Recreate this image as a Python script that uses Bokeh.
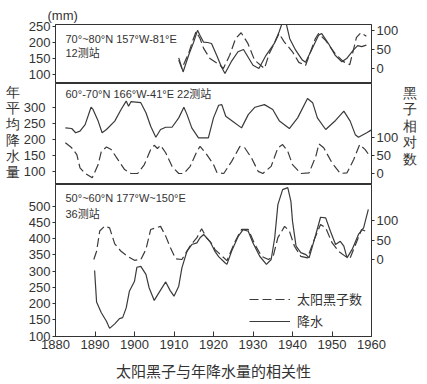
from bokeh.plotting import figure
from bokeh.layouts import column, row
from bokeh.models import Range1d, LinearAxis, FixedTicker, Label, Legend, LegendItem
from bokeh.embed import file_html
from bokeh.resources import INLINE

# ---------------- data ----------------
# Panel 1: 70-80N, 12 stations
p1_rain_year = [1911.2, 1912.3, 1913.7, 1915.0, 1915.95, 1916.6, 1917.5, 1918.5, 1919.5, 1920.8, 1922.0, 1922.9,
                1924.5, 1926.2, 1927.6, 1930.0, 1931.5, 1933.3, 1935.4, 1936.6, 1937.5, 1937.9, 1938.5, 1939.3,
                1940.8, 1942.5, 1943.3, 1945.0, 1946.6, 1947.4, 1949.1, 1950.8, 1952.5, 1953.7, 1955.4, 1956.5,
                1957.5, 1958.7]
p1_rain = [152, 108, 160, 202, 238, 222, 201, 200, 197, 160, 124, 103,
           140, 171, 178, 129, 119, 160, 197, 233, 265, 275, 254, 212,
           176, 145, 138, 181, 223, 228, 197, 160, 140, 150, 176, 190,
           187, 192]
p1_spot_year = [1911.2, 1912.0, 1913.7, 1914.8, 1915.6, 1916.6, 1917.5, 1919.1, 1921.6, 1922.5, 1924.1, 1925.6,
                1927.0, 1928.7, 1930.4, 1932.9, 1934.1, 1936.6, 1937.9, 1940.0, 1941.6, 1943.3, 1945.8, 1946.6,
                1948.3, 1950.8, 1952.9, 1954.5, 1956.2, 1957.3, 1958.7]
p1_spot = [22, 0, 40, 75, 97, 79, 53, 26, 9, 0, 35, 79,
           94, 66, 22, 0, 39, 92, 70, 44, 16, 8, 79, 92,
           75, 39, 18, 10, 82, 94, 85]

# Panel 2: 60-70N, 22 stations
p2_rain_year = [1882.5, 1884.1, 1885.1, 1886.2, 1887.5, 1889.0, 1889.5, 1890.8, 1891.8, 1892.9, 1895.0, 1896.6,
                1897.9, 1898.5, 1899.1, 1901.6, 1902.9, 1904.1, 1905.4, 1906.6, 1907.9, 1909.5, 1911.2, 1912.5,
                1913.3, 1914.5, 1916.2, 1918.7, 1920.0, 1921.3, 1922.1, 1923.1, 1925.0, 1927.1, 1928.8, 1930.5,
                1932.9, 1935.0, 1936.7, 1939.2, 1941.3, 1943.8, 1945.1, 1946.3, 1948.4, 1950.9, 1953.0, 1954.6,
                1955.9, 1956.7, 1958.8, 1959.9]
p2_rain = [236, 234, 221, 226, 246, 300, 293, 257, 221, 231, 257, 293,
           319, 303, 317, 314, 283, 241, 207, 231, 238, 238, 267, 300,
           277, 236, 205, 205, 267, 306, 308, 272, 255, 236, 277, 300,
           308, 293, 257, 234, 267, 327, 314, 267, 231, 259, 288, 257,
           215, 207, 221, 229]
p2_spot_year = [1882.5, 1884.1, 1885.4, 1886.2, 1887.5, 1889.3, 1890.8, 1891.6, 1892.9, 1894.1, 1895.8, 1897.5,
                1899.1, 1900.8, 1902.5, 1904.1, 1905.0, 1905.8, 1906.6, 1907.9, 1909.5, 1911.2, 1912.5, 1914.1,
                1915.8, 1916.6, 1918.3, 1920.0, 1920.9, 1922.6, 1924.6, 1926.7, 1927.9, 1929.6, 1931.3, 1932.5,
                1934.6, 1936.3, 1937.5, 1938.8, 1940.0, 1942.1, 1944.2, 1945.9, 1946.7, 1947.9, 1950.0, 1952.1,
                1953.8, 1955.5, 1957.0, 1958.4, 1959.6]
p2_spot = [86, 72, 53, 16, 0, -12, 25, 62, 74, 67, 39, 11,
           0, 0, 25, 67, 79, 70, 79, 58, 20, 0, 0, 20,
           62, 76, 53, 25, 2, 0, 34, 76, 72, 44, 6, 0,
           20, 72, 81, 62, 25, 0, 2, 48, 83, 72, 30, 0,
           2, 39, 81, 67, 48]

# Panel 3: 50-60N, 36 stations
p3_rain_year = [1889.9, 1890.4, 1891.6, 1892.9, 1893.7, 1895.0, 1896.2, 1897.0, 1897.9, 1898.7, 1900.0, 1900.6,
                1901.6, 1902.9, 1903.7, 1905.0, 1906.2, 1907.9, 1909.0, 1910.0, 1911.2, 1912.0, 1913.3, 1914.5,
                1915.8, 1916.6, 1917.5, 1919.1, 1920.4, 1921.3, 1922.9, 1923.4, 1924.6, 1926.3, 1927.5, 1928.8,
                1930.0, 1931.7, 1933.4, 1934.6, 1935.5, 1936.3, 1937.5, 1938.8, 1939.6, 1940.0, 1940.9, 1942.1,
                1943.4, 1944.2, 1945.9, 1947.1, 1948.4, 1949.6, 1950.9, 1952.1, 1953.0, 1953.8, 1955.1, 1956.7,
                1958.0, 1959.2]
p3_rain = [302, 205, 172, 146, 124, 138, 154, 157, 187, 238, 269, 312,
           315, 290, 249, 210, 234, 267, 241, 223, 254, 310, 362, 382,
           387, 403, 413, 392, 360, 345, 326, 321, 362, 408, 428, 423,
           387, 346, 321, 336, 403, 505, 551, 557, 515, 454, 377, 357,
           351, 341, 413, 466, 464, 423, 382, 392, 377, 341, 367, 413,
           433, 490]
p3_spot_year = [1889.7, 1890.4, 1891.2, 1892.5, 1893.7, 1895.0, 1896.6, 1898.3, 1900.0, 1901.6, 1902.9, 1904.1,
                1905.4, 1906.6, 1907.9, 1909.1, 1910.4, 1912.0, 1912.9, 1914.1, 1915.8, 1917.0, 1918.3, 1919.6,
                1920.4, 1921.3, 1923.4, 1925.5, 1927.1, 1928.8, 1930.5, 1932.2, 1933.9, 1935.1, 1936.3, 1938.0,
                1939.2, 1940.5, 1942.1, 1943.8, 1945.5, 1947.1, 1948.4, 1950.0, 1951.7, 1953.4, 1954.6, 1956.3,
                1957.5, 1958.4]
p3_spot = [0, 21, 73, 86, 81, 40, 21, 8, -2, 0, 26, 77,
           81, 85, 60, 30, 2, 0, 15, 35, 56, 79, 55, 40,
           25, 17, -3, 47, 77, 77, 38, 8, 0, 8, 56, 85,
           73, 34, 8, 4, 51, 90, 81, 43, 21, 8, 4, 47,
           77, 73]

decade_ticks = [1880, 1890, 1900, 1910, 1920, 1930, 1940, 1950, 1960]
p1_left_ticks = [100, 150, 200, 250]
p2_left_ticks = [100, 150, 200, 250, 300]
p3_left_ticks = [100, 150, 200, 250, 300, 350, 400, 450, 500]
spot_ticks = [0, 50, 100]

p1_text = ["70°~80°N  157°W-81°E", "12测站"]
p2_text = "60°-70°N  166°W-41°E  22测站"
p3_text = ["50°~60°N  177°W~150°E", "36测站"]
unit_text = "(mm)"
left_title = "年平均降水量"
right_title = "黑子相对数"
x_title = "太阳黑子与年降水量的相关性"
legend_labels = ["太阳黑子数", "降水"]

# ---------------- styling / layout ----------------
INK = "#333333"
LINE = "#3a3a3a"
NUM_FONT = "Liberation Sans"
MIX_FONT = "Liberation Sans, Noto Sans CJK SC"
CJK_FONT = "Noto Sans CJK SC"
LW, CW, RW = 20, 381, 25          # left label strip, charts, right label strip
BL, BR = 33, 28                   # borders around the 320px frame
H1, H2, H3 = 83, 101, 199
HT = H1 + H2 + H3


def make_panel(height, yl, yr, bt, bb, lticks, lstandoff):
    p = figure(width=CW, height=height, x_range=Range1d(1880, 1960), y_range=Range1d(*yl),
               output_backend="svg", toolbar_location=None,
               x_axis_location=None, y_axis_location=None,
               min_border_left=BL, min_border_right=BR,
               min_border_top=bt, min_border_bottom=bb)
    p.extra_y_ranges = {"ss": Range1d(*yr)}
    p.grid.visible = False
    p.outline_line_color = INK
    p.outline_line_width = 1
    p.background_fill_color = "white"
    p.border_fill_color = "white"
    la = LinearAxis(ticker=FixedTicker(ticks=lticks), major_tick_out=3, major_tick_in=0,
                    axis_line_color=INK, major_tick_line_color=INK,
                    major_label_text_font=NUM_FONT, major_label_text_font_size="13px",
                    major_label_text_color=INK, major_label_standoff=lstandoff)
    p.add_layout(la, "left")
    ra = LinearAxis(y_range_name="ss", ticker=FixedTicker(ticks=spot_ticks), major_tick_out=3,
                    major_tick_in=0, axis_line_color=INK, major_tick_line_color=INK,
                    major_label_text_font=NUM_FONT, major_label_text_font_size="13px",
                    major_label_text_color=INK, major_label_standoff=2)
    p.add_layout(ra, "right")
    return p


def draw(p, ry, r, sy, s):
    rr = p.line(ry, r, line_color=LINE, line_width=1.2)
    sr = p.line(sy, s, line_color=LINE, line_width=1.2, line_dash="9 4", y_range_name="ss")
    return rr, sr


def lab(p, x, y, text, font, size="11px"):
    p.add_layout(Label(x=x, y=y, x_units="screen", y_units="screen", text=text,
                       text_font=font, text_font_size=size, text_color=INK,
                       text_baseline="middle"))


def strip(width, chars, xc, y0, dy):
    s = figure(width=width, height=HT, x_range=Range1d(0, width), y_range=Range1d(HT, 0),
               output_backend="svg", toolbar_location=None,
               x_axis_location=None, y_axis_location=None,
               min_border_left=0, min_border_right=0, min_border_top=0, min_border_bottom=0)
    s.grid.visible = False
    s.outline_line_color = None
    s.background_fill_color = "white"
    s.border_fill_color = "white"
    s.text(x=[xc] * len(chars), y=[y0 + dy * i for i in range(len(chars))], text=list(chars),
           text_font=CJK_FONT, text_font_size="14px", text_color=INK,
           text_align="center", text_baseline="middle")
    return s


# ---- panel 1 ----
p1 = make_panel(H1, (71.9, 256.25), (-39.5, 115.8), 24, 0, p1_left_ticks, 2)
draw(p1, p1_rain_year, p1_rain, p1_spot_year, p1_spot)
p1.title.text = unit_text
p1.title.align = "left"
p1.title.offset = -8
p1.title.standoff = 4
p1.title.text_font = NUM_FONT
p1.title.text_font_size = "13px"
p1.title.text_font_style = "normal"
p1.title.text_color = INK
lab(p1, 10, 45, p1_text[0], MIX_FONT)
lab(p1, 10, 31, p1_text[1], MIX_FONT)

# ---- panel 2 ----
p2 = make_panel(H2, (60.7, 373.4), (-30.8, 252.0), 0, 0, p2_left_ticks, 7)
draw(p2, p2_rain_year, p2_rain, p2_spot_year, p2_spot)
lab(p2, 10, 91, p2_text, MIX_FONT)

# ---- panel 3 ----
p3 = make_panel(H3, (99.0, 566.8), (-197.4, 192.3), 0, H3 - 152, p3_left_ticks, 2)
r3, s3 = draw(p3, p3_rain_year, p3_rain, p3_spot_year, p3_spot)
xa = LinearAxis(ticker=FixedTicker(ticks=decade_ticks), major_tick_in=5, major_tick_out=0,
                axis_line_color=INK, major_tick_line_color=INK,
                major_label_text_font=NUM_FONT, major_label_text_font_size="13px",
                major_label_text_color=INK, major_label_standoff=3,
                axis_label=x_title, axis_label_text_font=CJK_FONT,
                axis_label_text_font_size="15px", axis_label_text_font_style="normal",
                axis_label_text_color=INK, axis_label_standoff=8)
p3.add_layout(xa, "below")
lab(p3, 10, 139, p3_text[0], MIX_FONT)
lab(p3, 10, 123, p3_text[1], MIX_FONT)
legend = Legend(items=[LegendItem(label=legend_labels[0], renderers=[s3]),
                       LegendItem(label=legend_labels[1], renderers=[r3])],
                location=(194, 6), glyph_width=41, glyph_height=14, label_height=14,
                spacing=3, padding=0, margin=0, border_line_color=None,
                background_fill_alpha=0, label_text_font=CJK_FONT,
                label_text_font_size="13px", label_text_color=INK, label_standoff=7)
p3.add_layout(legend)

left = strip(LW, left_title, 12, 92, 16)
right = strip(RW, right_title, 8, 93, 16.4)

layout = row(left, column(p1, p2, p3, spacing=0), right, spacing=0)
open("out.html", "w").write(file_html(layout, INLINE))
